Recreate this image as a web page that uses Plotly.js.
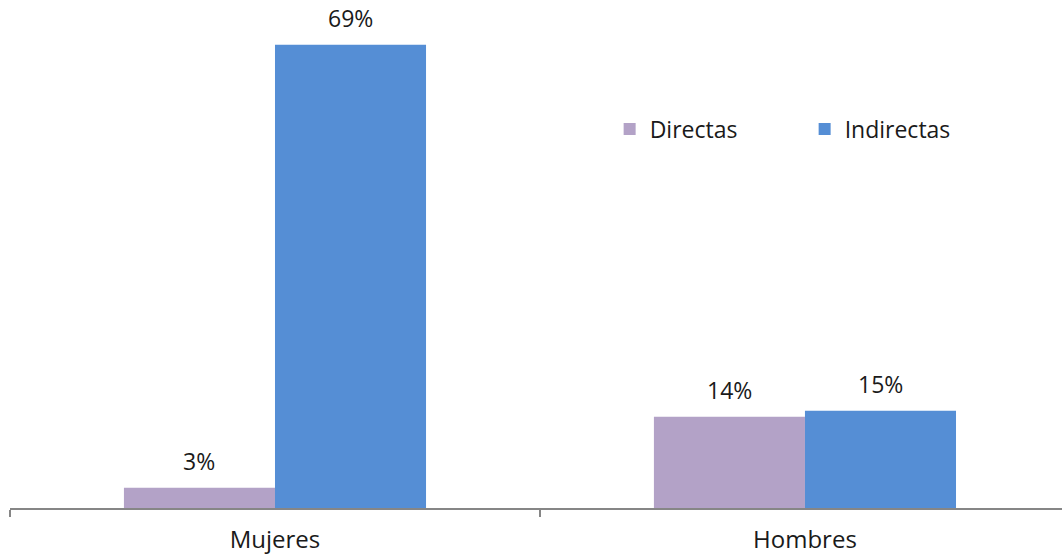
<!DOCTYPE html>
<html>
<head>
<meta charset="utf-8">
<script src="https://cdn.plot.ly/plotly-3.0.1.min.js"></script>
<style>html,body{margin:0;padding:0;background:#fff;}#chart{width:1062px;height:556px;}</style>
</head>
<body>
<div id="chart"></div>
<script>
const categories = ["Mujeres", "Hombres"];
const seriesNames = ["Directas", "Indirectas"];
const directas = [3, 13.6];
const indirectas = [69, 14.5];
const directasLabels = ["3%", "14%"];
const indirectasLabels = ["69%", "15%"];

const colors = ["#B3A2C7", "#558ED5"];
const FONT = "Open Sans, sans-serif";
const TXT = "#1a1a1a";

const traces = [
  {type: "bar", name: seriesNames[0], x: categories, y: directas, marker: {color: colors[0]}, hoverinfo: "none"},
  {type: "bar", name: seriesNames[1], x: categories, y: indirectas, marker: {color: colors[1]}, hoverinfo: "none"}
];

const bargap = 0.43;
const barW = (1 - bargap) / 2;
const annotations = [];
[[directas, directasLabels], [indirectas, indirectasLabels]].forEach(([vals, labs], i) => {
  vals.forEach((v, j) => {
    annotations.push({
      x: j + (i - 0.5) * barW, y: v, xref: "x", yref: "y",
      text: labs[j], showarrow: false, yanchor: "bottom", yshift: 9,
      font: {family: FONT, size: 23, color: TXT}
    });
  });
});

const layout = {
  width: 1062, height: 556,
  margin: {l: 10, r: 0, t: 30, b: 48},
  paper_bgcolor: "#fff", plot_bgcolor: "#fff",
  barmode: "group", bargap: bargap, bargroupgap: 0,
  showlegend: true,
  legend: {orientation: "h", x: 0.57, y: 0.793, xanchor: "left", yanchor: "middle",
           font: {family: FONT, size: 23, color: TXT}, entrywidth: 150, itemwidth: 30},
  xaxis: {type: "category", range: [-0.5, 1.485], showline: true, linecolor: "#868686", linewidth: 2,
          ticks: "outside", tickson: "boundaries", ticklen: 7, tickcolor: "#868686", tickwidth: 2,
          ticklabelstandoff: 9,
          tickfont: {family: FONT, size: 24, color: TXT}, showgrid: false, zeroline: false},
  yaxis: {range: [0, 71.2], visible: false, showgrid: false, zeroline: false},
  annotations: annotations
};

Plotly.newPlot("chart", traces, layout, {displayModeBar: false, staticPlot: true});
</script>
</body>
</html>
